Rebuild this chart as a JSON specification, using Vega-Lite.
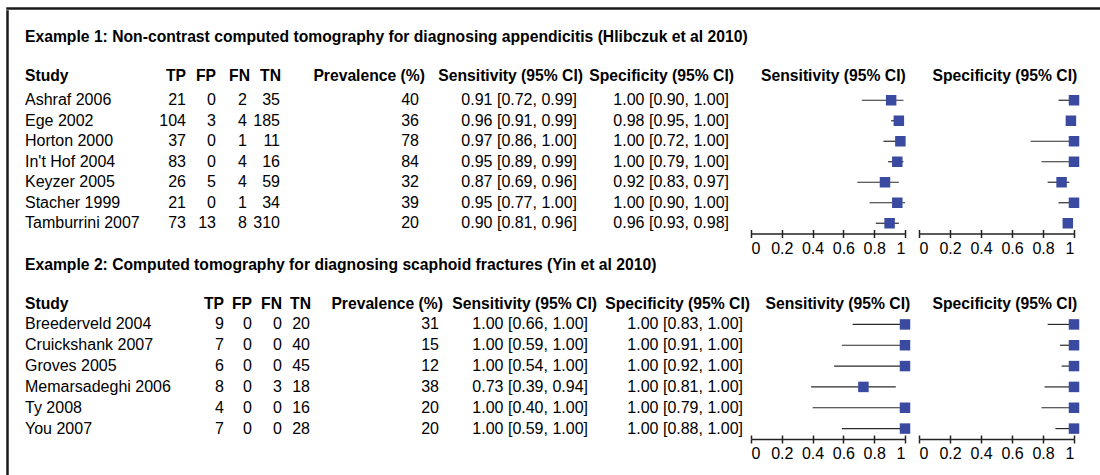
{
  "$schema": "https://vega.github.io/schema/vega-lite/v6.json",
  "padding": {"left": 6, "top": 7, "right": 0, "bottom": 0},
  "autosize": {"type": "pad"},
  "background": "white",
  "datasets": {
    "ex1": [
      {"study": "Ashraf 2006", "tp": 21, "fp": 0, "fn": 2, "tn": 35, "prev": 40, "sens": 0.91, "sensLo": 0.72, "sensHi": 0.99, "spec": 1.0, "specLo": 0.9, "specHi": 1.0, "sensText": "0.91 [0.72, 0.99]", "specText": "1.00 [0.90, 1.00]"},
      {"study": "Ege 2002", "tp": 104, "fp": 3, "fn": 4, "tn": 185, "prev": 36, "sens": 0.96, "sensLo": 0.91, "sensHi": 0.99, "spec": 0.98, "specLo": 0.95, "specHi": 1.0, "sensText": "0.96 [0.91, 0.99]", "specText": "0.98 [0.95, 1.00]"},
      {"study": "Horton 2000", "tp": 37, "fp": 0, "fn": 1, "tn": 11, "prev": 78, "sens": 0.97, "sensLo": 0.86, "sensHi": 1.0, "spec": 1.0, "specLo": 0.72, "specHi": 1.0, "sensText": "0.97 [0.86, 1.00]", "specText": "1.00 [0.72, 1.00]"},
      {"study": "In't Hof 2004", "tp": 83, "fp": 0, "fn": 4, "tn": 16, "prev": 84, "sens": 0.95, "sensLo": 0.89, "sensHi": 0.99, "spec": 1.0, "specLo": 0.79, "specHi": 1.0, "sensText": "0.95 [0.89, 0.99]", "specText": "1.00 [0.79, 1.00]"},
      {"study": "Keyzer 2005", "tp": 26, "fp": 5, "fn": 4, "tn": 59, "prev": 32, "sens": 0.87, "sensLo": 0.69, "sensHi": 0.96, "spec": 0.92, "specLo": 0.83, "specHi": 0.97, "sensText": "0.87 [0.69, 0.96]", "specText": "0.92 [0.83, 0.97]"},
      {"study": "Stacher 1999", "tp": 21, "fp": 0, "fn": 1, "tn": 34, "prev": 39, "sens": 0.95, "sensLo": 0.77, "sensHi": 1.0, "spec": 1.0, "specLo": 0.9, "specHi": 1.0, "sensText": "0.95 [0.77, 1.00]", "specText": "1.00 [0.90, 1.00]"},
      {"study": "Tamburrini 2007", "tp": 73, "fp": 13, "fn": 8, "tn": 310, "prev": 20, "sens": 0.9, "sensLo": 0.81, "sensHi": 0.96, "spec": 0.96, "specLo": 0.93, "specHi": 0.98, "sensText": "0.90 [0.81, 0.96]", "specText": "0.96 [0.93, 0.98]"}
    ],
    "ex2": [
      {"study": "Breederveld 2004", "tp": 9, "fp": 0, "fn": 0, "tn": 20, "prev": 31, "sens": 1.0, "sensLo": 0.66, "sensHi": 1.0, "spec": 1.0, "specLo": 0.83, "specHi": 1.0, "sensText": "1.00 [0.66, 1.00]", "specText": "1.00 [0.83, 1.00]"},
      {"study": "Cruickshank 2007", "tp": 7, "fp": 0, "fn": 0, "tn": 40, "prev": 15, "sens": 1.0, "sensLo": 0.59, "sensHi": 1.0, "spec": 1.0, "specLo": 0.91, "specHi": 1.0, "sensText": "1.00 [0.59, 1.00]", "specText": "1.00 [0.91, 1.00]"},
      {"study": "Groves 2005", "tp": 6, "fp": 0, "fn": 0, "tn": 45, "prev": 12, "sens": 1.0, "sensLo": 0.54, "sensHi": 1.0, "spec": 1.0, "specLo": 0.92, "specHi": 1.0, "sensText": "1.00 [0.54, 1.00]", "specText": "1.00 [0.92, 1.00]"},
      {"study": "Memarsadeghi 2006", "tp": 8, "fp": 0, "fn": 3, "tn": 18, "prev": 38, "sens": 0.73, "sensLo": 0.39, "sensHi": 0.94, "spec": 1.0, "specLo": 0.81, "specHi": 1.0, "sensText": "0.73 [0.39, 0.94]", "specText": "1.00 [0.81, 1.00]"},
      {"study": "Ty 2008", "tp": 4, "fp": 0, "fn": 0, "tn": 16, "prev": 20, "sens": 1.0, "sensLo": 0.4, "sensHi": 1.0, "spec": 1.0, "specLo": 0.79, "specHi": 1.0, "sensText": "1.00 [0.40, 1.00]", "specText": "1.00 [0.79, 1.00]"},
      {"study": "You 2007", "tp": 7, "fp": 0, "fn": 0, "tn": 28, "prev": 20, "sens": 1.0, "sensLo": 0.59, "sensHi": 1.0, "spec": 1.0, "specLo": 0.88, "specHi": 1.0, "sensText": "1.00 [0.59, 1.00]", "specText": "1.00 [0.88, 1.00]"}
    ]
  },
  "config": {
    "view": {"stroke": null},
    "font": "Liberation Sans",
    "text": {"font": "Liberation Sans", "fontSize": 16, "color": "#000000", "baseline": "middle"},
    "title": {"font": "Liberation Sans", "fontSize": 15.7, "fontWeight": "bold", "color": "#000000", "baseline": "bottom"},
    "axis": {"labelFont": "Liberation Sans", "grid": false}
  },
  "spacing": 0,
  "vconcat": [
    {"data": {"values": []}, "mark": "point", "width": 1093, "height": 1, "view": {"stroke": "#1a1a1a", "strokeWidth": 1.5}},
    {
      "spacing": 16,
      "hconcat": [
        {"data": {"values": []}, "mark": "point", "width": 1, "height": 466, "view": {"stroke": "#1a1a1a", "strokeWidth": 1.5}},
        {
          "spacing": 16,
          "vconcat": [
            {"data": {"values": []}, "mark": "point", "width": 1, "height": 1},
            {
              "spacing": 0,
              "vconcat": [
                {
                  "title": {"text": "Example 1: Non-contrast computed tomography for diagnosing appendicitis (Hlibczuk et al 2010)", "anchor": "start", "offset": 23},
                  "bounds": "flush",
                  "spacing": 0,
                  "hconcat": [
                    {"data": {"name": "ex1"}, "width": 131, "height": 143.5, "title": {"text": "Study", "anchor": "start", "offset": 5},
                     "mark": {"type": "text", "align": "left"},
                     "encoding": {"y": {"field": "study", "type": "nominal", "sort": null, "axis": null}, "x": {"value": 0}, "text": {"field": "study", "type": "nominal"}}},
                    {"data": {"name": "ex1"}, "width": 30, "height": 143.5, "title": {"text": "TP", "anchor": "end", "offset": 5},
                     "mark": {"type": "text", "align": "right"},
                     "encoding": {"y": {"field": "study", "type": "nominal", "sort": null, "axis": null}, "x": {"value": "width"}, "text": {"field": "tp", "type": "nominal"}}},
                    {"data": {"name": "ex1"}, "width": 30, "height": 143.5, "title": {"text": "FP", "anchor": "end", "offset": 5},
                     "mark": {"type": "text", "align": "right"},
                     "encoding": {"y": {"field": "study", "type": "nominal", "sort": null, "axis": null}, "x": {"value": "width"}, "text": {"field": "fp", "type": "nominal"}}},
                    {"data": {"name": "ex1"}, "width": 31, "height": 143.5, "title": {"text": "FN", "anchor": "end", "offset": 5, "dx": 3},
                     "mark": {"type": "text", "align": "right"},
                     "encoding": {"y": {"field": "study", "type": "nominal", "sort": null, "axis": null}, "x": {"value": "width"}, "text": {"field": "fn", "type": "nominal"}}},
                    {"data": {"name": "ex1"}, "width": 33, "height": 143.5, "title": {"text": "TN", "anchor": "end", "offset": 5, "dx": 1},
                     "mark": {"type": "text", "align": "right"},
                     "encoding": {"y": {"field": "study", "type": "nominal", "sort": null, "axis": null}, "x": {"value": "width"}, "text": {"field": "tn", "type": "nominal"}}},
                    {"data": {"name": "ex1"}, "width": 139, "height": 143.5, "title": {"text": "Prevalence (%)", "anchor": "end", "offset": 5, "dx": 6},
                     "mark": {"type": "text", "align": "right"},
                     "encoding": {"y": {"field": "study", "type": "nominal", "sort": null, "axis": null}, "x": {"value": "width"}, "text": {"field": "prev", "type": "nominal"}}},
                    {"data": {"name": "ex1"}, "width": 158, "height": 143.5, "title": {"text": "Sensitivity (95% CI)", "anchor": "end", "offset": 5, "dx": 6},
                     "mark": {"type": "text", "align": "right"},
                     "encoding": {"y": {"field": "study", "type": "nominal", "sort": null, "axis": null}, "x": {"value": "width"}, "text": {"field": "sensText", "type": "nominal"}}},
                    {"data": {"name": "ex1"}, "width": 152, "height": 143.5, "title": {"text": "Specificity (95% CI)", "anchor": "end", "offset": 5, "dx": 5},
                     "mark": {"type": "text", "align": "right"},
                     "encoding": {"y": {"field": "study", "type": "nominal", "sort": null, "axis": null}, "x": {"value": "width"}, "text": {"field": "specText", "type": "nominal"}}},
                    {"data": {"values": []}, "mark": "point", "width": 22, "height": 1},
                    {"data": {"name": "ex1"}, "width": 154, "height": 143.5, "title": {"text": "Sensitivity (95% CI)", "anchor": "end", "offset": 5},
                     "resolve": {"scale": {"x": "independent"}},
                     "layer": [
                       {"mark": {"type": "rule", "color": "#2a2a2a", "strokeWidth": 1.2},
                        "encoding": {"y": {"field": "study", "type": "nominal", "sort": null, "axis": null},
                          "x": {"field": "sensLo", "type": "quantitative", "scale": {"domain": [0, 1], "nice": false},
                            "axis": {"orient": "bottom", "values": [0, 0.2, 0.4, 0.6, 0.8, 1], "format": "~g", "labelFlush": true, "tickSize": 4, "tickColor": "#222222", "tickWidth": 1.5, "domainColor": "#222222", "domainWidth": 1.5, "labelFontSize": 16, "labelColor": "#000000", "labelPadding": 2.5, "title": null, "labelOverlap": false}},
                          "x2": {"field": "sensHi"}}},
                       {"mark": {"type": "point", "shape": "square", "filled": true, "size": 110, "color": "#3A4AA0", "opacity": 1},
                        "encoding": {"y": {"field": "study", "type": "nominal", "sort": null, "axis": null},
                          "x": {"field": "sens", "type": "quantitative", "scale": {"domain": [0, 1], "nice": false}, "axis": null}}},
                       {"mark": {"type": "point", "opacity": 0},
                        "encoding": {"y": {"field": "study", "type": "nominal", "sort": null, "axis": null},
                          "x": {"field": "sens", "type": "quantitative", "scale": {"domain": [0, 1], "nice": false},
                            "axis": {"orient": "bottom", "values": [0, 0.2, 0.4, 0.6, 0.8, 1], "tickSize": -4, "tickColor": "#222222", "tickWidth": 1.5, "labels": false, "domain": false, "title": null}}}}
                     ]},
                    {"data": {"values": []}, "mark": "point", "width": 14, "height": 1},
                    {"data": {"name": "ex1"}, "width": 155, "height": 143.5, "title": {"text": "Specificity (95% CI)", "anchor": "end", "offset": 5, "dx": -2},
                     "resolve": {"scale": {"x": "independent"}},
                     "layer": [
                       {"mark": {"type": "rule", "color": "#2a2a2a", "strokeWidth": 1.2},
                        "encoding": {"y": {"field": "study", "type": "nominal", "sort": null, "axis": null},
                          "x": {"field": "specLo", "type": "quantitative", "scale": {"domain": [0, 1], "nice": false},
                            "axis": {"orient": "bottom", "values": [0, 0.2, 0.4, 0.6, 0.8, 1], "format": "~g", "labelFlush": true, "tickSize": 4, "tickColor": "#222222", "tickWidth": 1.5, "domainColor": "#222222", "domainWidth": 1.5, "labelFontSize": 16, "labelColor": "#000000", "labelPadding": 2.5, "title": null, "labelOverlap": false}},
                          "x2": {"field": "specHi"}}},
                       {"mark": {"type": "point", "shape": "square", "filled": true, "size": 110, "color": "#3A4AA0", "opacity": 1},
                        "encoding": {"y": {"field": "study", "type": "nominal", "sort": null, "axis": null},
                          "x": {"field": "spec", "type": "quantitative", "scale": {"domain": [0, 1], "nice": false}, "axis": null}}},
                       {"mark": {"type": "point", "opacity": 0},
                        "encoding": {"y": {"field": "study", "type": "nominal", "sort": null, "axis": null},
                          "x": {"field": "spec", "type": "quantitative", "scale": {"domain": [0, 1], "nice": false},
                            "axis": {"orient": "bottom", "values": [0, 0.2, 0.4, 0.6, 0.8, 1], "tickSize": -4, "tickColor": "#222222", "tickWidth": 1.5, "labels": false, "domain": false, "title": null}}}}
                     ]}
                  ]
                },
                {
                  "title": {"text": "Example 2: Computed tomography for diagnosing scaphoid fractures (Yin et al 2010)", "anchor": "start", "offset": 23},
                  "bounds": "flush",
                  "spacing": 0,
                  "hconcat": [
                    {"data": {"name": "ex2"}, "width": 169, "height": 125, "title": {"text": "Study", "anchor": "start", "offset": 1},
                     "mark": {"type": "text", "align": "left"},
                     "encoding": {"y": {"field": "study", "type": "nominal", "sort": null, "axis": null}, "x": {"value": 0}, "text": {"field": "study", "type": "nominal"}}},
                    {"data": {"name": "ex2"}, "width": 30, "height": 125, "title": {"text": "TP", "anchor": "end", "offset": 1},
                     "mark": {"type": "text", "align": "right"},
                     "encoding": {"y": {"field": "study", "type": "nominal", "sort": null, "axis": null}, "x": {"value": "width"}, "text": {"field": "tp", "type": "nominal"}}},
                    {"data": {"name": "ex2"}, "width": 28, "height": 125, "title": {"text": "FP", "anchor": "end", "offset": 1},
                     "mark": {"type": "text", "align": "right"},
                     "encoding": {"y": {"field": "study", "type": "nominal", "sort": null, "axis": null}, "x": {"value": "width"}, "text": {"field": "fp", "type": "nominal"}}},
                    {"data": {"name": "ex2"}, "width": 30, "height": 125, "title": {"text": "FN", "anchor": "end", "offset": 1},
                     "mark": {"type": "text", "align": "right"},
                     "encoding": {"y": {"field": "study", "type": "nominal", "sort": null, "axis": null}, "x": {"value": "width"}, "text": {"field": "fn", "type": "nominal"}}},
                    {"data": {"name": "ex2"}, "width": 28, "height": 125, "title": {"text": "TN", "anchor": "end", "offset": 1, "dx": 1},
                     "mark": {"type": "text", "align": "right"},
                     "encoding": {"y": {"field": "study", "type": "nominal", "sort": null, "axis": null}, "x": {"value": "width"}, "text": {"field": "tn", "type": "nominal"}}},
                    {"data": {"name": "ex2"}, "width": 129, "height": 125, "title": {"text": "Prevalence (%)", "anchor": "end", "offset": 1, "dx": 4},
                     "mark": {"type": "text", "align": "right"},
                     "encoding": {"y": {"field": "study", "type": "nominal", "sort": null, "axis": null}, "x": {"value": "width"}, "text": {"field": "prev", "type": "nominal"}}},
                    {"data": {"name": "ex2"}, "width": 149, "height": 125, "title": {"text": "Sensitivity (95% CI)", "anchor": "end", "offset": 1, "dx": 9},
                     "mark": {"type": "text", "align": "right"},
                     "encoding": {"y": {"field": "study", "type": "nominal", "sort": null, "axis": null}, "x": {"value": "width"}, "text": {"field": "sensText", "type": "nominal"}}},
                    {"data": {"name": "ex2"}, "width": 155, "height": 125, "title": {"text": "Specificity (95% CI)", "anchor": "end", "offset": 1, "dx": 7},
                     "mark": {"type": "text", "align": "right"},
                     "encoding": {"y": {"field": "study", "type": "nominal", "sort": null, "axis": null}, "x": {"value": "width"}, "text": {"field": "specText", "type": "nominal"}}},
                    {"data": {"values": []}, "mark": "point", "width": 8, "height": 1},
                    {"data": {"name": "ex2"}, "width": 154, "height": 125, "title": {"text": "Sensitivity (95% CI)", "anchor": "end", "offset": 1},
                     "resolve": {"scale": {"x": "independent"}},
                     "layer": [
                       {"mark": {"type": "rule", "color": "#2a2a2a", "strokeWidth": 1.2},
                        "encoding": {"y": {"field": "study", "type": "nominal", "sort": null, "axis": null},
                          "x": {"field": "sensLo", "type": "quantitative", "scale": {"domain": [0, 1], "nice": false},
                            "axis": {"orient": "bottom", "values": [0, 0.2, 0.4, 0.6, 0.8, 1], "format": "~g", "labelFlush": true, "tickSize": 4, "tickColor": "#222222", "tickWidth": 1.5, "domainColor": "#222222", "domainWidth": 1.5, "labelFontSize": 16, "labelColor": "#000000", "labelPadding": 2.5, "title": null, "labelOverlap": false}},
                          "x2": {"field": "sensHi"}}},
                       {"mark": {"type": "point", "shape": "square", "filled": true, "size": 110, "color": "#3A4AA0", "opacity": 1},
                        "encoding": {"y": {"field": "study", "type": "nominal", "sort": null, "axis": null},
                          "x": {"field": "sens", "type": "quantitative", "scale": {"domain": [0, 1], "nice": false}, "axis": null}}},
                       {"mark": {"type": "point", "opacity": 0},
                        "encoding": {"y": {"field": "study", "type": "nominal", "sort": null, "axis": null},
                          "x": {"field": "sens", "type": "quantitative", "scale": {"domain": [0, 1], "nice": false},
                            "axis": {"orient": "bottom", "values": [0, 0.2, 0.4, 0.6, 0.8, 1], "tickSize": -4, "tickColor": "#222222", "tickWidth": 1.5, "labels": false, "domain": false, "title": null}}}}
                     ]},
                    {"data": {"values": []}, "mark": "point", "width": 14, "height": 1},
                    {"data": {"name": "ex2"}, "width": 155, "height": 125, "title": {"text": "Specificity (95% CI)", "anchor": "end", "offset": 1, "dx": -2},
                     "resolve": {"scale": {"x": "independent"}},
                     "layer": [
                       {"mark": {"type": "rule", "color": "#2a2a2a", "strokeWidth": 1.2},
                        "encoding": {"y": {"field": "study", "type": "nominal", "sort": null, "axis": null},
                          "x": {"field": "specLo", "type": "quantitative", "scale": {"domain": [0, 1], "nice": false},
                            "axis": {"orient": "bottom", "values": [0, 0.2, 0.4, 0.6, 0.8, 1], "format": "~g", "labelFlush": true, "tickSize": 4, "tickColor": "#222222", "tickWidth": 1.5, "domainColor": "#222222", "domainWidth": 1.5, "labelFontSize": 16, "labelColor": "#000000", "labelPadding": 2.5, "title": null, "labelOverlap": false}},
                          "x2": {"field": "specHi"}}},
                       {"mark": {"type": "point", "shape": "square", "filled": true, "size": 110, "color": "#3A4AA0", "opacity": 1},
                        "encoding": {"y": {"field": "study", "type": "nominal", "sort": null, "axis": null},
                          "x": {"field": "spec", "type": "quantitative", "scale": {"domain": [0, 1], "nice": false}, "axis": null}}},
                       {"mark": {"type": "point", "opacity": 0},
                        "encoding": {"y": {"field": "study", "type": "nominal", "sort": null, "axis": null},
                          "x": {"field": "spec", "type": "quantitative", "scale": {"domain": [0, 1], "nice": false},
                            "axis": {"orient": "bottom", "values": [0, 0.2, 0.4, 0.6, 0.8, 1], "tickSize": -4, "tickColor": "#222222", "tickWidth": 1.5, "labels": false, "domain": false, "title": null}}}}
                     ]}
                  ]
                }
              ]
            }
          ]
        }
      ]
    }
  ]
}
